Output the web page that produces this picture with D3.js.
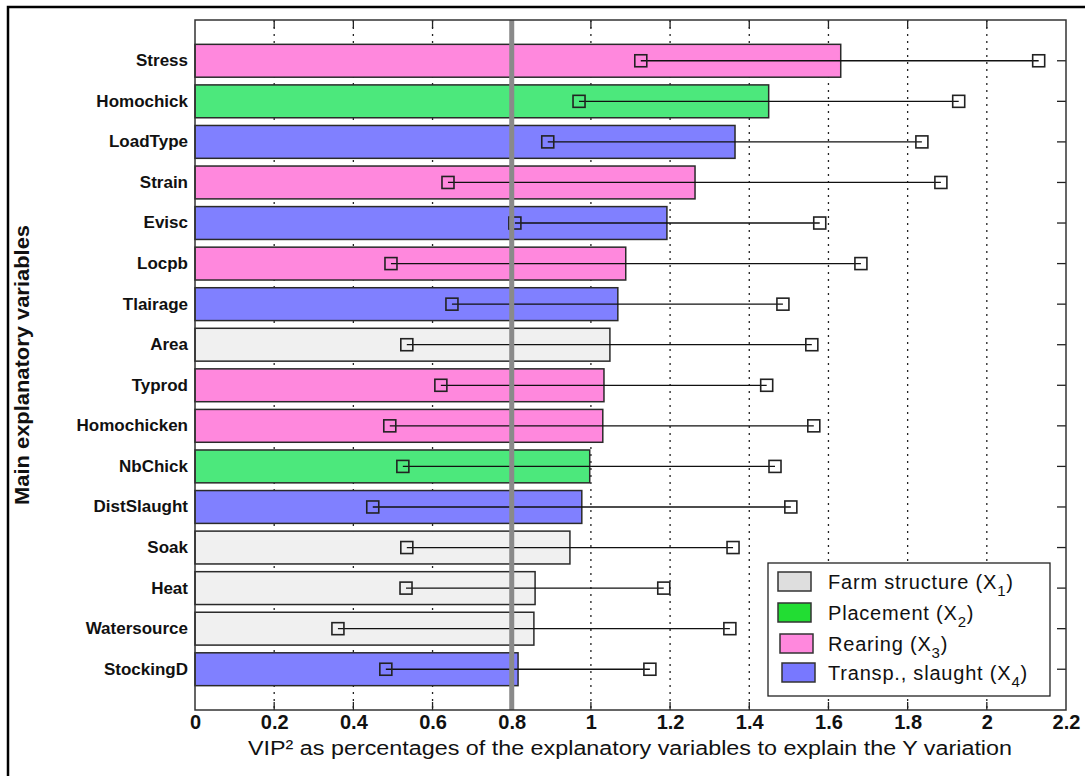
<!DOCTYPE html>
<html>
<head>
<meta charset="utf-8">
<script src="https://cdn.jsdelivr.net/npm/d3@7"></script>
<style>
  body { margin: 0; background: #fff; }
  svg text { font-family: "Liberation Sans", Arial, sans-serif; }
</style>
</head>
<body>
<div class="curr-graff"></div>
<script>
// variables, top to bottom
const names = ["Stress", "Homochick", "LoadType", "Strain", "Evisc", "Locpb", "Tlairage", "Area",
  "Typrod", "Homochicken", "NbChick", "DistSlaught", "Soak", "Heat", "Watersource", "StockingD"];
const vip = [1.631, 1.449, 1.364, 1.263, 1.192, 1.088, 1.068, 1.048,
  1.033, 1.030, 0.997, 0.977, 0.947, 0.859, 0.856, 0.816];
const lowVal = [1.126, 0.970, 0.891, 0.639, 0.808, 0.495, 0.649, 0.535,
  0.621, 0.492, 0.525, 0.449, 0.535, 0.533, 0.361, 0.482];
const highVal = [2.131, 1.929, 1.836, 1.884, 1.578, 1.682, 1.485, 1.558,
  1.444, 1.563, 1.465, 1.505, 1.359, 1.184, 1.351, 1.149];
// group index: 0 farm, 1 placement, 2 rearing, 3 transport
const group = [2, 1, 3, 2, 3, 2, 3, 0, 2, 2, 1, 3, 0, 0, 0, 3];
const groupNames = ["Farm structure (X", "Placement (X", "Rearing (X", "Transp., slaught (X"];
const groupSub = ["1", "2", "3", "4"];
const xTicks = [0, 0.2, 0.4, 0.6, 0.8, 1, 1.2, 1.4, 1.6, 1.8, 2, 2.2];
const threshold = 0.8;

const barColors = ["#f0f0f0", "#4ce87c", "#ff88dd", "#8080ff"];
const swatchColors = ["#dedede", "#22dd33", "#ff88dd", "#7878ff"];

const W = 1085, H = 776;
const pLeft = 195, pRight = 1066, pTop = 20, pBottom = 710;

const svg = d3.select(".curr-graff")
    .append("svg")
    .attr("width", W)
    .attr("height", H);

// outer frame (top + left only visible)
svg.append("path")
    .attr("d", "M8,800 L8,7 L1090,7")
    .attr("fill", "none")
    .attr("stroke", "#000")
    .attr("stroke-width", 2.5);

const x = d3.scaleLinear().domain([0, 2.2]).range([pLeft, pRight]);
const y = d3.scaleBand().domain(names).range([pTop, pBottom])
    .paddingInner(0.19).paddingOuter(0.6);

// dotted grid
svg.append("g").selectAll("line")
    .data(xTicks.slice(1, -1))
    .enter().append("line")
    .attr("x1", d => x(d)).attr("x2", d => x(d))
    .attr("y1", pTop).attr("y2", pBottom)
    .attr("stroke", "#222")
    .attr("stroke-width", 1.3)
    .attr("stroke-dasharray", "2,5");

// top / bottom inward ticks
const tickG = svg.append("g");
xTicks.slice(1, -1).forEach(t => {
    tickG.append("line").attr("x1", x(t)).attr("x2", x(t)).attr("y1", pTop).attr("y2", pTop + 8)
        .attr("stroke", "#222").attr("stroke-width", 1.3);
    tickG.append("line").attr("x1", x(t)).attr("x2", x(t)).attr("y1", pBottom).attr("y2", pBottom - 8)
        .attr("stroke", "#222").attr("stroke-width", 1.3);
});

// right inward ticks at rows
svg.append("g").selectAll("line")
    .data(names)
    .enter().append("line")
    .attr("x1", pRight).attr("x2", pRight - 9)
    .attr("y1", d => y(d) + y.bandwidth() / 2)
    .attr("y2", d => y(d) + y.bandwidth() / 2)
    .attr("stroke", "#222").attr("stroke-width", 1.3);

// bars
svg.append("g").selectAll("rect")
    .data(names)
    .enter().append("rect")
    .attr("x", x(0))
    .attr("y", d => y(d))
    .attr("width", (d, i) => x(vip[i]) - x(0))
    .attr("height", y.bandwidth())
    .attr("fill", (d, i) => barColors[group[i]])
    .attr("stroke", "#2a2a2a")
    .attr("stroke-width", 1.5);

// interval lines and open squares
const errG = svg.append("g");
names.forEach((n, i) => {
    const cy = y(n) + y.bandwidth() / 2;
    errG.append("line")
        .attr("x1", x(lowVal[i])).attr("x2", x(highVal[i]))
        .attr("y1", cy).attr("y2", cy)
        .attr("stroke", "#111").attr("stroke-width", 1.3);
    [lowVal[i], highVal[i]].forEach(v => {
        errG.append("rect")
            .attr("x", x(v) - 6).attr("y", cy - 6)
            .attr("width", 12).attr("height", 12)
            .attr("fill", "none")
            .attr("stroke", "#222").attr("stroke-width", 1.6);
    });
});

// threshold line
svg.append("line")
    .attr("x1", x(threshold)).attr("x2", x(threshold))
    .attr("y1", pTop).attr("y2", pBottom)
    .attr("stroke", "#8a8a8a")
    .attr("stroke-width", 5);

// plot frame
svg.append("rect")
    .attr("x", pLeft).attr("y", pTop)
    .attr("width", pRight - pLeft).attr("height", pBottom - pTop)
    .attr("fill", "none")
    .attr("stroke", "#333").attr("stroke-width", 1.5);

// x axis labels
const xAxis = d3.axisBottom(x).tickValues(xTicks).tickFormat(d3.format("~g")).tickSize(0).tickPadding(5);
const gx = svg.append("g")
    .attr("transform", "translate(0," + pBottom + ")")
    .call(xAxis);
gx.select(".domain").remove();
gx.selectAll("text")
    .attr("font-size", 20)
    .attr("font-weight", "bold")
    .attr("fill", "#111");

// y axis labels
const yAxis = d3.axisLeft(y).tickSize(0).tickPadding(7);
const gy = svg.append("g")
    .attr("transform", "translate(" + pLeft + ",0)")
    .call(yAxis);
gy.select(".domain").remove();
gy.selectAll("text")
    .attr("font-size", 17)
    .attr("font-weight", "bold")
    .attr("fill", "#111");

// axis titles
svg.append("text")
    .attr("x", 248)
    .attr("y", 755)
    .attr("font-size", 20)
    .attr("fill", "#111")
    .attr("textLength", 764)
    .attr("lengthAdjust", "spacingAndGlyphs")
    .text("VIP² as percentages of the explanatory variables to explain the Y variation");

svg.append("g")
    .attr("transform", "translate(29,505) rotate(-90)")
    .append("text")
    .attr("font-size", 20)
    .attr("font-weight", "bold")
    .attr("fill", "#111")
    .attr("textLength", 280)
    .attr("lengthAdjust", "spacingAndGlyphs")
    .text("Main explanatory variables");

// legend
const lg = svg.append("g");
lg.append("rect")
    .attr("x", 768).attr("y", 563)
    .attr("width", 282).attr("height", 133)
    .attr("fill", "#fff")
    .attr("stroke", "#222").attr("stroke-width", 1.3);
const legY = [582, 613, 644, 673];
groupNames.forEach((g, i) => {
    lg.append("rect")
        .attr("x", 778 + (i >= 2 ? i - 1 : 0) * 2).attr("y", legY[i] - 10)
        .attr("width", 33).attr("height", 19)
        .attr("fill", swatchColors[i])
        .attr("stroke", "#333").attr("stroke-width", 1.5);
    const t = lg.append("text")
        .attr("x", 828).attr("y", legY[i] + 7)
        .attr("font-size", 20)
        .attr("letter-spacing", 0.8)
        .attr("fill", "#111");
    t.append("tspan").text(g);
    t.append("tspan").attr("dy", 7).attr("font-size", 15).text(groupSub[i]);
    t.append("tspan").attr("dy", -7).text(")");
});
</script>
</body>
</html>
